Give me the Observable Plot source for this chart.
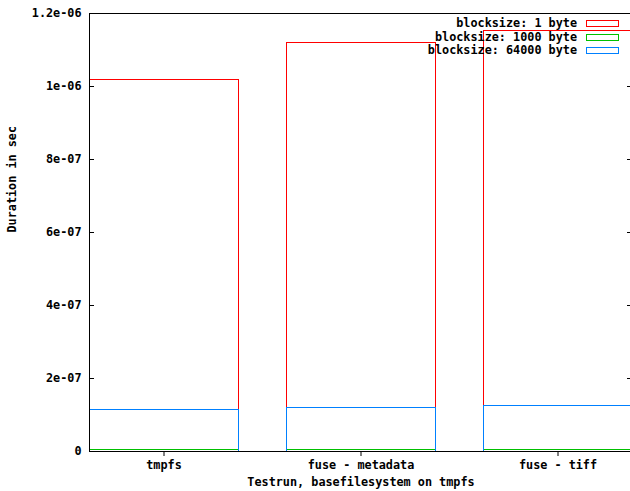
<!DOCTYPE html>
<html>
<head>
<meta charset="utf-8">
<script src="https://cdn.jsdelivr.net/npm/d3@7"></script>
<script src="https://cdn.jsdelivr.net/npm/@observablehq/plot@0.6"></script>
<style>
  html, body { margin: 0; padding: 0; background: #fff; }
  #wrap { position: relative; width: 630px; height: 491px; overflow: hidden; }
  .lg { position: absolute; font: bold 11.8px "DejaVu Sans Mono", monospace; color: #000; white-space: pre; }
  .lgtext { position: absolute; right: 53px; text-align: right; line-height: 13px; }
  .sw { position: absolute; left: 586px; width: 31px; height: 5px; background: #fff; }
</style>
</head>
<body>
<div id="wrap"></div>
<script>
const categories = ["tmpfs", "fuse - metadata", "fuse - tiff"];
const seriesNames = ["blocksize: 1 byte", "blocksize: 1000 byte", "blocksize: 64000 byte"];
const seriesColors = ["#ff0000", "#00c000", "#0080ff"];
const values1 = [1.020e-6, 1.1205e-6, 1.1534e-6];
const values1000 = [5e-9, 5e-9, 5e-9];
const values64000 = [1.142e-7, 1.197e-7, 1.26e-7];
const yTicks = [0, 2e-7, 4e-7, 6e-7, 8e-7, 1e-6, 1.2e-6];
const yTickLabels = ["0", "2e-07", "4e-07", "6e-07", "8e-07", "1e-06", "1.2e-06"];
const xTitle = "Testrun, basefilesystem on tmpfs";
const yTitle = "Duration in sec";

const allValues = [values1, values1000, values64000];
const rows = [];
seriesNames.forEach((s, si) => {
  categories.forEach((c, ci) => rows.push({category: c, series: s, value: allValues[si][ci]}));
});

const font = 'bold 11.8px "DejaVu Sans Mono", monospace';
const W = 630, H = 491, ML = 89, MR = -2, MT = 13, MB = 40;
const plotW = W - ML - MR;

const chart = Plot.plot({
  width: W,
  height: H,
  marginLeft: ML,
  marginRight: MR,
  marginTop: MT,
  marginBottom: MB,
  style: {font: font, color: "#000", background: "#fff"},
  x: {type: "band", domain: categories, paddingInner: 48 / 197, paddingOuter: 0, align: 0.5, round: true},
  y: {domain: [0, 1.2e-6]},
  color: {domain: seriesNames, range: seriesColors},
  marks: [
    Plot.barY(rows, {x: "category", y1: 0, y2: "value", stroke: "series", fill: "none", strokeWidth: 1, dx: 0.5, dy: 0.5, shapeRendering: "crispEdges"}),
    Plot.frame({stroke: "#000"}),
    Plot.axisY({ticks: yTicks, tickFormat: (d) => yTickLabels[yTicks.indexOf(d)], tickSize: 0, tickPadding: 8, label: null, fontWeight: "bold"}),
    Plot.tickY(yTicks, {y: d => d, insetRight: plotW - 5, stroke: "#000"}),
    Plot.tickY(yTicks, {y: d => d, insetLeft: plotW - 5, stroke: "#000"}),
    Plot.axisX({tickSize: 5, tickPadding: 4, label: null, fontWeight: "bold"}),
    Plot.text([xTitle], {frameAnchor: "bottom", dy: 34, text: d => d, fontWeight: "bold"}),
    Plot.text([yTitle], {frameAnchor: "left", dx: -77, rotate: -90, text: d => d, fontWeight: "bold"})
  ]
});

const wrap = document.getElementById("wrap");
wrap.appendChild(chart);

// legend overlay
const rowsY = [17, 31, 44];
seriesNames.forEach((s, i) => {
  const t = document.createElement("div");
  t.className = "lg lgtext";
  t.style.top = rowsY[i] + "px";
  t.textContent = s;
  wrap.appendChild(t);
  const sw = document.createElement("div");
  sw.className = "sw";
  sw.style.top = (rowsY[i] + 3) + "px";
  sw.style.border = "1px solid " + seriesColors[i];
  wrap.appendChild(sw);
});
</script>
</body>
</html>
